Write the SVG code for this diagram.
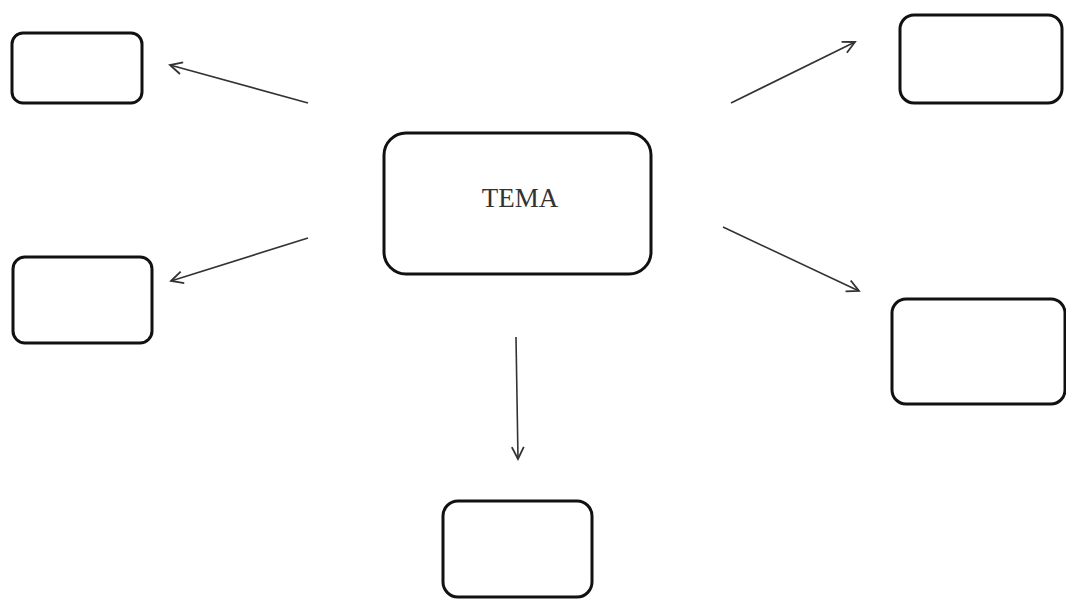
<svg xmlns="http://www.w3.org/2000/svg" width="1066" height="599" viewBox="0 0 1066 599">
<style>
.box{fill:#fff;stroke:#111;stroke-width:3}
.arr{fill:none;stroke:#333;stroke-width:1.6;marker-end:url(#ah)}
.lbl{font-family:"Liberation Serif","Times New Roman",serif;font-size:27px;fill:#333;text-anchor:middle}
</style>
<defs>
<marker id="ah" markerUnits="userSpaceOnUse" markerWidth="20" markerHeight="20" refX="13" refY="7" orient="auto" viewBox="0 0 20 14">
<polyline points="1,1 13,7 1,13" fill="none" stroke="#333" stroke-width="1.8"/>
</marker>
</defs>
<rect width="1066" height="599" fill="#fff"/>
<g id="connectors">
<line class="arr" x1="308" y1="103" x2="170" y2="65"/>
<line class="arr" x1="308" y1="238" x2="171" y2="281"/>
<line class="arr" x1="731" y1="103" x2="855" y2="42"/>
<line class="arr" x1="723" y1="227" x2="859" y2="291"/>
<line class="arr" x1="516" y1="337" x2="518" y2="459"/>
</g>
<g id="center">
<rect class="box" x="384" y="133" width="267" height="141" rx="22"/>
<text class="lbl" x="520" y="207">TEMA</text>
</g>
<g id="topleft"><rect class="box" x="12" y="33" width="130" height="70" rx="11"/></g>
<g id="midleft"><rect class="box" x="13" y="257" width="139" height="86" rx="12"/></g>
<g id="topright"><rect class="box" x="900" y="15" width="162" height="88" rx="14"/></g>
<g id="midright"><rect class="box" x="892" y="299" width="173" height="105" rx="14"/></g>
<g id="bottom"><rect class="box" x="443" y="501" width="149" height="96" rx="15"/></g>
</svg>
